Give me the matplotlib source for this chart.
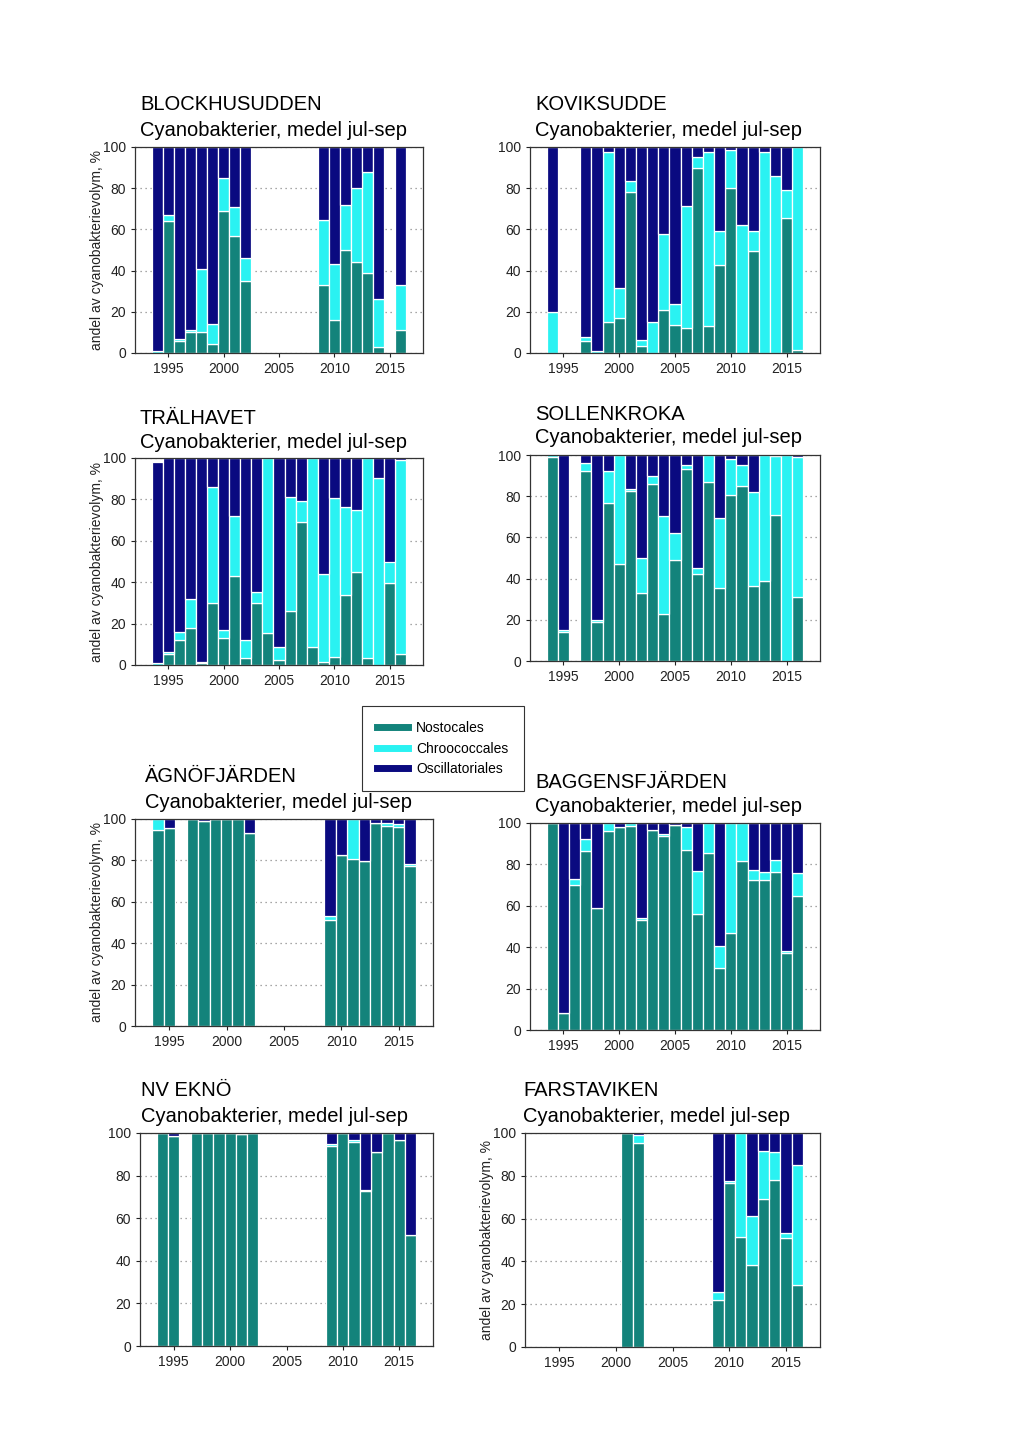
import numpy as np
import matplotlib
matplotlib.use("Agg")
import matplotlib.pyplot as plt
from matplotlib.lines import Line2D

plt.rcParams['font.family'] = ['Liberation Sans', 'DejaVu Sans']

OUTPUT_FILE = "out.png"

YEARS = list(range(1994, 2017))
GROUPS = ['Nostocales', 'Chroococcales', 'Oscillatoriales']
COLORS = ['#13837b', '#2af2f2', '#0a0a80']
SUBTITLE = "Cyanobakterier, medel jul-sep"
YLABEL = "andel av cyanobakterievolym, %"
X_TICKS = [1995, 2000, 2005, 2010, 2015]
Y_TICKS = [0, 20, 40, 60, 80, 100]

# Andel (%) per år 1994-2016, None = inget prov
_ = None
blockhusudden_nost = [0, 64, 6, 10, 10, 4.5, 69, 57, 35, _, _, _, _, _, _, 33, 16, 50, 44, 39, 3, _, 11]
blockhusudden_chroo = [1, 3, 1, 1, 31, 9.5, 16, 14, 11, _, _, _, _, _, _, 31.5, 27, 22, 36, 49, 23, _, 22]
blockhusudden_osc = [99, 33, 93, 89, 59, 86, 15, 29, 54, _, _, _, _, _, _, 35.5, 57, 28, 20, 12, 74, _, 67]

koviksudde_nost = [0, _, _, 6, 0, 15, 17, 78, 3.5, 0, 21, 13.5, 12, 90, 13, 42.5, 80, 0, 49.5, 0, 0, 65.5, 1.5]
koviksudde_chroo = [20, _, _, 2, 1, 82.5, 14.5, 5.5, 3, 15, 37, 10.5, 59.5, 5, 84.5, 16.5, 18.5, 62, 9.5, 97.5, 86, 13.5, 98.5]
koviksudde_osc = [80, _, _, 92, 99, 2.5, 68.5, 16.5, 93.5, 85, 42, 76, 28.5, 5, 2.5, 41, 1.5, 38, 41, 2.5, 14, 21, 0]

tralhavet_nost = [0, 5.5, 12, 18, 1, 30, 13, 43, 3.5, 30, 15.5, 2.5, 26, 69, 8.5, 1.5, 4, 34, 45, 3.5, 0, 39.5, 5.5]
tralhavet_chroo = [1, 1, 4, 14, 0.5, 56, 4, 29, 8.5, 5.5, 84.5, 6, 55, 10, 91.5, 42.5, 76.5, 42.5, 30, 96.5, 90.5, 10.5, 93.5]
tralhavet_osc = [97, 93.5, 84, 68, 98.5, 14, 83, 28, 88, 64.5, 0, 91.5, 19, 21, 0, 56, 19.5, 23.5, 25, 0, 9.5, 50, 1]

sollenkroka_nost = [99, 14, _, 92, 19, 76.5, 47, 82.5, 33, 86, 23, 49, 93, 42, 87, 35.5, 80.5, 85, 36.5, 39, 71, 0, 31]
sollenkroka_chroo = [1, 1, _, 4, 1, 15.5, 53, 1, 17, 4, 47.5, 13, 2, 3, 13, 34, 17.5, 10, 45.5, 61, 28.5, 100, 68]
sollenkroka_osc = [0, 85, _, 4, 80, 8, 0, 16.5, 50, 10, 29.5, 38, 5, 55, 0, 30.5, 2, 5, 18, 0, 0.5, 0, 1]

agnofjarden_nost = [94.5, 95.5, _, 100, 99, 100, 100, 100, 93, _, _, _, _, _, _, 51, 82.5, 80.5, 79.5, 98, 96.5, 96, 77.5]
agnofjarden_chroo = [5.5, 0, _, 0, 0, 0, 0, 0, 0, _, _, _, _, _, _, 2, 0, 19.5, 0, 0, 1.5, 1.5, 1]
agnofjarden_osc = [0, 4.5, _, 0, 1, 0, 0, 0, 7, _, _, _, _, _, _, 47, 17.5, 0, 20.5, 2, 2, 2.5, 21.5]

baggensfjarden_nost = [100, 8, 70, 86.5, 59, 96, 98, 98.5, 53, 96.5, 93.5, 99, 87, 56, 85.5, 30, 47, 81.5, 72.5, 72.5, 76.5, 37, 64.5]
baggensfjarden_chroo = [0, 0, 3, 6, 0, 4, 0, 1.5, 1, 0, 1, 0, 11, 21, 14.5, 10.5, 53, 18.5, 5, 4, 5.5, 1, 11.5]
baggensfjarden_osc = [0, 92, 27, 7.5, 41, 0, 2, 0, 46, 3.5, 5.5, 1, 2, 23, 0, 59.5, 0, 0, 22.5, 23.5, 18, 62, 24]

nveknö_nost = [100, 98.5, _, 100, 100, 100, 100, 99.5, 100, _, _, _, _, _, _, 94, 100, 96, 73, 91, 100, 96.5, 52]
nveknö_chroo = [0, 0, _, 0, 0, 0, 0, 0, 0, _, _, _, _, _, _, 1, 0, 0.5, 0.3, 0, 0, 0, 0]
nveknö_osc = [0, 1.5, _, 0, 0, 0, 0, 0.5, 0, _, _, _, _, _, _, 5, 0, 3.5, 26.7, 9, 0, 3.5, 48]

farstaviken_nost = [_, _, _, _, _, _, _, 100, 95.5, _, _, _, _, _, _, 22, 76.5, 51.5, 38.5, 69, 78, 51, 29]
farstaviken_chroo = [_, _, _, _, _, _, _, 0, 3.5, _, _, _, _, _, _, 3.5, 1, 48.5, 22.5, 22.5, 13, 2.5, 56]
farstaviken_osc = [_, _, _, _, _, _, _, 0, 1, _, _, _, _, _, _, 74.5, 22.5, 0, 39, 8.5, 9, 46.5, 15]

STATIONS = [
    ("BLOCKHUSUDDEN", (blockhusudden_nost, blockhusudden_chroo, blockhusudden_osc)),
    ("KOVIKSUDDE", (koviksudde_nost, koviksudde_chroo, koviksudde_osc)),
    ("TRÄLHAVET", (tralhavet_nost, tralhavet_chroo, tralhavet_osc)),
    ("SOLLENKROKA", (sollenkroka_nost, sollenkroka_chroo, sollenkroka_osc)),
    ("ÄGNÖFJÄRDEN", (agnofjarden_nost, agnofjarden_chroo, agnofjarden_osc)),
    ("BAGGENSFJÄRDEN", (baggensfjarden_nost, baggensfjarden_chroo, baggensfjarden_osc)),
    ("NV EKNÖ", (nveknö_nost, nveknö_chroo, nveknö_osc)),
    ("FARSTAVIKEN", (farstaviken_nost, farstaviken_chroo, farstaviken_osc)),
]

# Layout in pixels: axes (left, top, right, bottom), title (x, y line1, y line2)
FIG_W, FIG_H = 1024, 1448
AXES_PX = [
    (135, 147, 423, 353), (530, 147, 820, 353),
    (135, 458, 423, 665), (530, 455, 820, 661),
    (135, 819, 433, 1026), (530, 823, 820, 1030),
    (140, 1133, 433, 1346), (525, 1133, 820, 1347),
]
TITLE_PX = [
    (140, 105, 130), (535, 105, 130),
    (140, 418, 442), (535, 414, 438),
    (145, 777, 802), (535, 783, 807),
    (141, 1090, 1116), (523, 1090, 1116),
]
SHOW_YLABEL = [True, False, True, False, True, False, False, True]


def to_array(values):
    return np.array([np.nan if v is None else v for v in values], dtype=float)


def draw_panel(ax, series, show_ylabel, width_px):
    years = np.array(YEARS)
    bottom = np.zeros(len(years))
    for values, color in zip(series, COLORS):
        vals = to_array(values)
        mask = ~np.isnan(vals)
        ax.bar(years[mask], vals[mask], width=1.0, bottom=bottom[mask],
               color=color, edgecolor='white', linewidth=0.9, zorder=2)
        bottom = bottom + np.nan_to_num(vals)

    ax.set_xlim(1992, 2018)
    ax.set_ylim(0, 100)
    ax.set_xticks(X_TICKS)
    ax.set_yticks(Y_TICKS)
    ax.tick_params(labelsize=10, colors='#222222', length=3, width=0.8)
    ax.grid(axis='y', linestyle=(0, (1, 3)), color='#8a8a8a', linewidth=0.9, zorder=0)
    ax.set_axisbelow(True)
    for spine in ax.spines.values():
        spine.set_color('#333333')
        spine.set_linewidth(0.9)
    if show_ylabel:
        ax.set_ylabel(YLABEL, fontsize=10, color='#222222')
        ax.yaxis.set_label_coords(-31 / width_px, 0.5)


def main():
    fig = plt.figure(figsize=(FIG_W / 100, FIG_H / 100), dpi=100)

    for (name, series), (l, t, r, b), (tx, ty1, ty2), show_yl in zip(
            STATIONS, AXES_PX, TITLE_PX, SHOW_YLABEL):
        ax = fig.add_axes([l / FIG_W, 1 - b / FIG_H, (r - l) / FIG_W, (b - t) / FIG_H])
        draw_panel(ax, series, show_yl, r - l)
        fig.text(tx / FIG_W, 1 - ty1 / FIG_H, name, fontsize=14.5, va='center', ha='left')
        fig.text(tx / FIG_W, 1 - ty2 / FIG_H, SUBTITLE, fontsize=14.5, va='center', ha='left')

    handles = [Line2D([], [], color=c, linewidth=5) for c in COLORS]
    leg = fig.legend(handles, GROUPS, loc='upper left',
                     bbox_to_anchor=(362 / FIG_W, 1 - 706 / FIG_H),
                     fontsize=10, frameon=True, fancybox=False, framealpha=1,
                     edgecolor='#333333', borderpad=1.1, handlelength=2.2,
                     handletextpad=0.6, labelspacing=0.45, borderaxespad=0)
    leg.get_frame().set_linewidth(0.8)

    fig.savefig(OUTPUT_FILE, dpi=100)
    plt.close(fig)


if __name__ == "__main__":
    main()
